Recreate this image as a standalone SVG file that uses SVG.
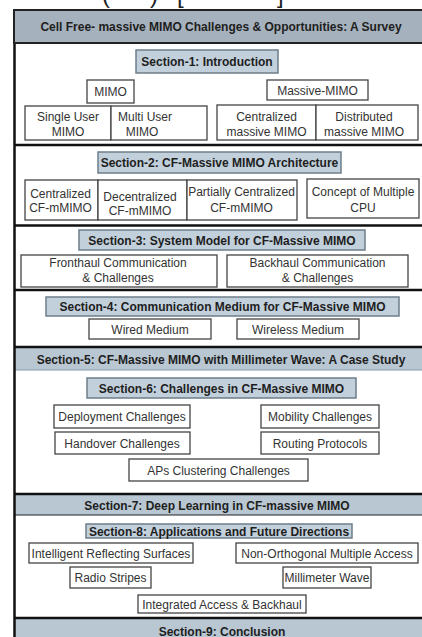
<svg xmlns="http://www.w3.org/2000/svg" width="422" height="637" viewBox="0 0 422 637">
<style>
text{font-family:"Liberation Sans",Arial,sans-serif;font-size:12px;text-anchor:middle;fill:#333}
.b{font-weight:bold;fill:#1e1e1e}
.hdr{fill:#c2d0dc;stroke:#6d7d8a;stroke-width:1.5}
.bar{fill:#b9c7d3}
.box{fill:#fff;stroke:#444;stroke-width:1.3}
.sep{stroke:#111;stroke-width:2.5}
.frag{font-size:24px;fill:#222;text-anchor:start}
</style>
<rect width="422" height="637" fill="#fff"/>
<g id="caption-fragment">
<text class="frag" x="102" y="3">(</text>
<text class="frag" x="150" y="3">)</text>
<text class="frag" x="177" y="3">[</text>
<text class="frag" x="277" y="3">]</text>
</g>
<g id="frame">
<rect class="bar" x="14" y="347" width="410" height="23"/>
<rect class="bar" x="14" y="494" width="410" height="21"/>
<rect class="bar" x="14" y="618" width="410" height="19"/>
<line class="sep" x1="14" y1="145" x2="424" y2="145"/>
<line class="sep" x1="14" y1="225.5" x2="424" y2="225.5"/>
<line class="sep" x1="14" y1="290" x2="424" y2="290"/>
<line class="sep" x1="14" y1="347" x2="424" y2="347"/>
<line x1="14" y1="370" x2="424" y2="370" stroke="#8a98a4" stroke-width="1"/>
<line class="sep" x1="14" y1="494" x2="424" y2="494"/>
<line x1="14" y1="515" x2="424" y2="515" stroke="#222" stroke-width="1.2"/>
<line class="sep" x1="14" y1="618" x2="424" y2="618"/>
<line x1="14.5" y1="10" x2="14.5" y2="637" stroke="#111" stroke-width="2.5"/>
</g>
<g id="title">
<rect x="14" y="10" width="412" height="33" fill="#a5b1bc" stroke="#222" stroke-width="2"/>
<text class="b" x="221" y="31">Cell Free- massive MIMO Challenges &amp; Opportunities: A Survey</text>
</g>
<g id="section1">
<rect class="hdr" x="136" y="50" width="142" height="23"/>
<text class="b" x="207" y="66">Section-1: Introduction</text>
</g>
<g id="mimo">
<rect class="box" x="87" y="80" width="47" height="23"/>
<text x="110.5" y="96">MIMO</text>
</g>
<g id="massive-mimo">
<rect class="box" x="267" y="80" width="101" height="20"/>
<text x="317.5" y="94.5">Massive-MIMO</text>
</g>
<g id="single-user-mimo">
<rect class="box" x="25" y="106" width="86" height="34"/>
<text x="68" y="121">Single User</text>
<text x="68" y="135.5">MIMO</text>
</g>
<g id="multi-user-mimo">
<rect class="box" x="111" y="106" width="96" height="34"/>
<text x="145" y="121">Multi User</text>
<text x="142" y="135.5">MIMO</text>
</g>
<g id="centralized-massive-mimo">
<rect class="box" x="217" y="105" width="99" height="35"/>
<text x="266.5" y="121">Centralized</text>
<text x="266.5" y="136">massive MIMO</text>
</g>
<g id="distributed-massive-mimo">
<rect class="box" x="316" y="105" width="102" height="35"/>
<text x="364" y="121">Distributed</text>
<text x="364" y="136">massive MIMO</text>
</g>
<g id="section2">
<rect class="hdr" x="98" y="152" width="243" height="21"/>
<text class="b" x="219.5" y="167">Section-2: CF-Massive MIMO Architecture</text>
</g>
<g id="centralized-cf">
<rect class="box" x="25" y="180" width="73" height="40"/>
<text x="60.5" y="198">Centralized</text>
<text x="60.5" y="212">CF-mMIMO</text>
</g>
<g id="decentralized-cf">
<rect class="box" x="98" y="180" width="89" height="40"/>
<text x="140" y="201">Decentralized</text>
<text x="140" y="215">CF-mMIMO</text>
</g>
<g id="partially-centralized-cf">
<rect class="box" x="187" y="180" width="110" height="40"/>
<text x="241.5" y="196">Partially Centralized</text>
<text x="241.5" y="212">CF-mMIMO</text>
</g>
<g id="multiple-cpu">
<rect class="box" x="307" y="179" width="112" height="39"/>
<text x="363" y="196">Concept of Multiple</text>
<text x="363" y="212">CPU</text>
</g>
<g id="section3">
<rect class="hdr" x="79" y="230" width="286" height="20"/>
<text class="b" x="222" y="245">Section-3: System Model for CF-Massive MIMO</text>
</g>
<g id="fronthaul">
<rect class="box" x="21" y="255" width="196" height="32"/>
<text x="118" y="267">Fronthaul Communication</text>
<text x="118" y="282">&amp; Challenges</text>
</g>
<g id="backhaul">
<rect class="box" x="227" y="255" width="181" height="32"/>
<text x="317.5" y="267">Backhaul Communication</text>
<text x="317.5" y="282">&amp; Challenges</text>
</g>
<g id="section4">
<rect class="hdr" x="46" y="297" width="353" height="19"/>
<text class="b" x="222.5" y="311">Section-4: Communication Medium for CF-Massive MIMO</text>
</g>
<g id="wired">
<rect class="box" x="89" y="319" width="122" height="20"/>
<text x="150" y="333.5">Wired Medium</text>
</g>
<g id="wireless">
<rect class="box" x="237" y="319" width="122" height="20"/>
<text x="298" y="333.5">Wireless Medium</text>
</g>
<g id="section5">
<text class="b" x="221" y="363.5">Section-5: CF-Massive MIMO with Millimeter Wave: A Case Study</text>
</g>
<g id="section6">
<rect class="hdr" x="87" y="378" width="269" height="20"/>
<text class="b" x="221.5" y="392.5">Section-6: Challenges in CF-Massive MIMO</text>
</g>
<g id="deployment">
<rect class="box" x="54" y="405" width="136" height="23"/>
<text x="122" y="421">Deployment Challenges</text>
</g>
<g id="mobility">
<rect class="box" x="261" y="405" width="118" height="23"/>
<text x="320" y="421">Mobility Challenges</text>
</g>
<g id="handover">
<rect class="box" x="55" y="432" width="135" height="22"/>
<text x="122" y="447.5">Handover Challenges</text>
</g>
<g id="routing">
<rect class="box" x="261" y="432" width="118" height="22"/>
<text x="320" y="447.5">Routing Protocols</text>
</g>
<g id="aps-clustering">
<rect class="box" x="129" y="459" width="179" height="22"/>
<text x="218.5" y="474.5">APs Clustering Challenges</text>
</g>
<g id="section7">
<text class="b" x="217" y="509.5">Section-7: Deep Learning in CF-massive MIMO</text>
</g>
<g id="section8">
<rect class="hdr" x="86" y="524" width="266" height="14"/>
<text class="b" x="219" y="535.5">Section-8: Applications and Future Directions</text>
</g>
<g id="irs">
<rect class="box" x="29" y="543" width="164" height="20"/>
<text x="111" y="557.5">Intelligent Reflecting Surfaces</text>
</g>
<g id="noma">
<rect class="box" x="236" y="543" width="182" height="20"/>
<text x="327" y="557.5">Non-Orthogonal Multiple Access</text>
</g>
<g id="radio-stripes">
<rect class="box" x="70" y="567" width="81" height="21"/>
<text x="110.5" y="582">Radio Stripes</text>
</g>
<g id="millimeter-wave">
<rect class="box" x="283" y="567" width="88" height="21"/>
<text x="327" y="582">Millimeter Wave</text>
</g>
<g id="iab">
<rect class="box" x="138" y="595" width="168" height="18"/>
<text x="222" y="608.5">Integrated Access &amp; Backhaul</text>
</g>
<g id="section9">
<text class="b" x="222" y="635.5">Section-9: Conclusion</text>
</g>
<g id="connectors"></g>
</svg>
